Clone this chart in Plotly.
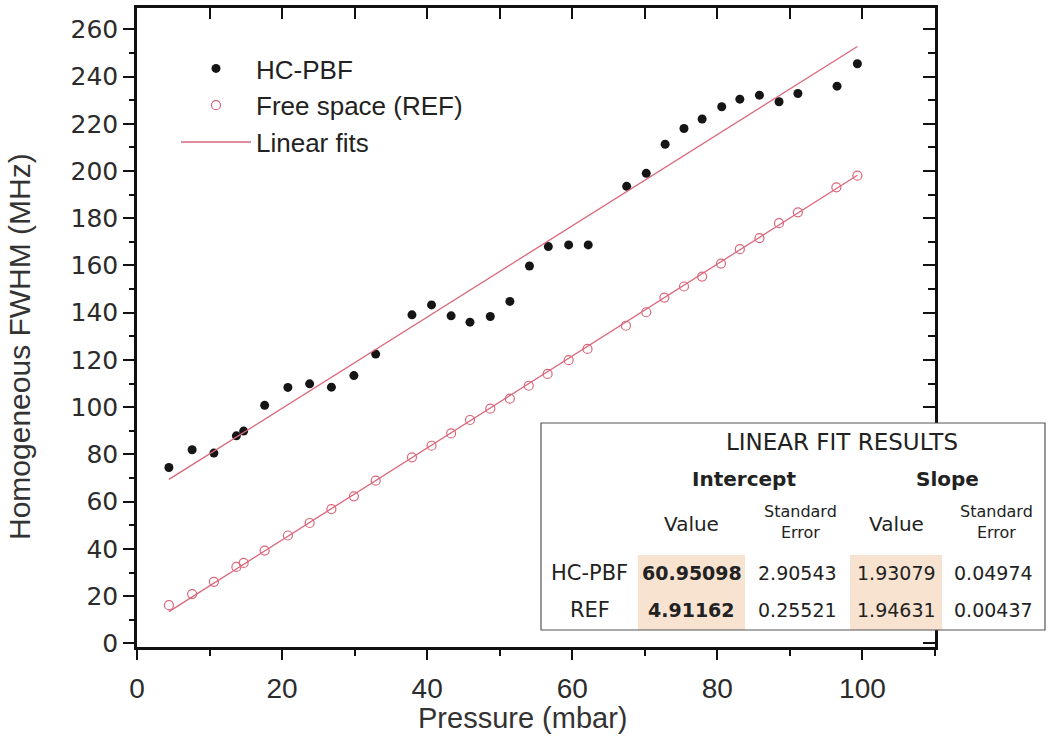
import plotly.graph_objects as go

# ---------------- data ----------------
pressure_hc = [4.4, 7.6, 10.6, 13.7, 14.7, 17.6, 20.8, 23.8, 26.8, 29.9, 32.9,
               37.9, 40.6, 43.3, 45.9, 48.7, 51.4, 54.1, 56.7, 59.5, 62.2,
               67.5, 70.2, 72.8, 75.4, 77.9, 80.6, 83.1, 85.8, 88.5, 91.1, 96.5, 99.3]
fwhm_hc = [74.5, 82.0, 80.6, 87.9, 89.9, 100.8, 108.4, 109.9, 108.5, 113.4, 122.5,
           139.1, 143.3, 138.7, 136.0, 138.4, 144.8, 159.8, 168.0, 168.7, 168.7,
           193.5, 199.0, 211.3, 218.0, 222.0, 227.2, 230.4, 232.1, 229.3, 232.8, 235.9, 245.4]

pressure_ref = [4.4, 7.6, 10.6, 13.7, 14.7, 17.6, 20.8, 23.8, 26.8, 29.9, 32.9,
                37.9, 40.6, 43.3, 45.9, 48.7, 51.4, 54.0, 56.6, 59.5, 62.1,
                67.4, 70.2, 72.7, 75.4, 77.9, 80.5, 83.1, 85.8, 88.5, 91.1, 96.4, 99.3]
fwhm_ref = [16.2, 20.9, 26.1, 32.4, 34.1, 39.3, 45.7, 51.0, 56.9, 62.3, 68.9,
            78.8, 83.7, 88.9, 94.6, 99.4, 103.6, 109.1, 114.1, 119.9, 124.7,
            134.5, 140.2, 146.4, 151.1, 155.3, 160.8, 166.9, 171.6, 177.9, 182.5, 193.1, 198.0]

# linear-fit table
fit_rows = ["HC-PBF", "REF"]
intercept_values = [60.95098, 4.91162]
intercept_errors = [2.90543, 0.25521]
slope_values = [1.93079, 1.94631]
slope_errors = [0.04974, 0.00437]

series_names = ["HC-PBF", "Free space (REF)", "Linear fits"]
x_tick_values = [0, 20, 40, 60, 80, 100]
y_tick_values = list(range(0, 261, 20))

# ---------------- styling ----------------
RED = "#d9677b"
W, H = 1057, 742
L, R, T, B = 137, 935, 8, 647
PW, PH = R - L, B - T
X_RANGE = [0, 110]
Y_RANGE = [-1.5, 269]


def px_x(px):
    return (px - L) / PW


def px_y(py):
    return (B - py) / PH


fig = go.Figure()

fig.add_trace(go.Scatter(
    x=pressure_hc, y=fwhm_hc, mode="markers", name=series_names[0],
    marker=dict(symbol="circle", size=9, color="#151515"), legendrank=1))
fig.add_trace(go.Scatter(
    x=pressure_ref, y=fwhm_ref, mode="markers", name=series_names[1],
    marker=dict(symbol="circle-open", size=9, color=RED, line=dict(width=1.2)),
    legendrank=2))

# fit lines from the table parameters over each data range
for i, (px_list, show) in enumerate([(pressure_hc, True), (pressure_ref, False)]):
    xs = [min(px_list), max(px_list)]
    ys = [intercept_values[i] + slope_values[i] * v for v in xs]
    fig.add_trace(go.Scatter(
        x=xs, y=ys, mode="lines", name=series_names[2], showlegend=show,
        line=dict(color=RED, width=1.3), legendrank=3))

# dummy trace to activate mirror axes
fig.add_trace(go.Scatter(x=[None], y=[None], xaxis="x2", yaxis="y2",
                         showlegend=False, hoverinfo="skip"))

axis_common = dict(showgrid=False, zeroline=False, showline=True, automargin=False,
                   linecolor="#111", linewidth=2.5, tickcolor="#111", tickwidth=2)

fig.update_layout(
    width=W, height=H,
    margin=dict(l=L, r=W - R, t=T, b=H - B),
    paper_bgcolor="white", plot_bgcolor="white",
    xaxis=dict(range=X_RANGE, tickvals=x_tick_values, ticks="outside", ticklen=10,
               ticklabelstandoff=5,
               minor=dict(dtick=10, tick0=0, ticks="outside", ticklen=6,
                          tickcolor="#111", tickwidth=2),
               tickfont=dict(family="Liberation Sans, Arial", size=28, color="#2b2b2b"),
               **axis_common),
    yaxis=dict(range=Y_RANGE, tickvals=y_tick_values, ticks="outside", ticklen=11,
               minor=dict(dtick=10, tick0=0, ticks="outside", ticklen=5,
                          tickcolor="#111", tickwidth=2),
               tickfont=dict(family="DejaVu Sans, Verdana", size=25, color="#2b2b2b"),
               **axis_common),
    xaxis2=dict(range=X_RANGE, overlaying="x", side="top", ticks="inside",
                dtick=10, tick0=0, ticklen=11, showticklabels=False, **axis_common),
    yaxis2=dict(range=Y_RANGE, overlaying="y", side="right", ticks="inside",
                dtick=20, tick0=0, ticklen=12, showticklabels=False,
                minor=dict(dtick=10, tick0=0, ticks="inside", ticklen=7,
                           tickcolor="#111", tickwidth=2),
                **axis_common),
    legend=dict(x=px_x(176), y=px_y(45), xanchor="left", yanchor="top",
                bgcolor="rgba(0,0,0,0)", itemwidth=70, tracegroupgap=0,
                font=dict(family="Liberation Sans, Arial", size=26, color="#222")),
    showlegend=True,
)

annotations = [
    dict(text="Pressure (mbar)", x=px_x(523), y=px_y(718), xref="paper", yref="paper",
         showarrow=False, xanchor="center", yanchor="middle",
         font=dict(family="Liberation Sans, Arial", size=29, color="#333")),
    dict(text="Homogeneous FWHM (MHz)", x=px_x(19), y=px_y(347), xref="paper", yref="paper",
         showarrow=False, xanchor="center", yanchor="middle", textangle=-90,
         font=dict(family="Liberation Sans, Arial", size=30, color="#333")),
]

shapes = []
# ---------------- fit results table ----------------
col_edges = [541, 638, 745, 850, 942, 1045]
tbl_top, tbl_bot = 423, 630
data_top = 555
row_mid = [573, 610]
PEACH = "#f8e3d1"

shapes.append(dict(type="rect", xref="paper", yref="paper",
                   x0=px_x(col_edges[0]), x1=px_x(col_edges[-1]),
                   y0=px_y(tbl_bot), y1=px_y(tbl_top),
                   fillcolor="white", line=dict(width=0), layer="above"))
for c0, c1 in [(col_edges[1], col_edges[2]), (col_edges[3], col_edges[4])]:
    shapes.append(dict(type="rect", xref="paper", yref="paper",
                       x0=px_x(c0), x1=px_x(c1), y0=px_y(tbl_bot), y1=px_y(data_top),
                       fillcolor=PEACH, line=dict(width=0), layer="above"))
shapes.append(dict(type="rect", xref="paper", yref="paper",
                   x0=px_x(col_edges[0]), x1=px_x(col_edges[-1]),
                   y0=px_y(tbl_bot), y1=px_y(tbl_top),
                   fillcolor="rgba(0,0,0,0)", line=dict(color="#555", width=1.2),
                   layer="above"))

TF = "DejaVu Sans, Verdana"


def cell(text, cx, cy, size, bold=False, color="#222"):
    annotations.append(dict(
        text=f"<b>{text}</b>" if bold else text, x=px_x(cx), y=px_y(cy),
        xref="paper", yref="paper", showarrow=False, xanchor="center", yanchor="middle",
        font=dict(family=TF, size=size, color=color)))


def mid(a, b):
    return (a + b) / 2


cell("LINEAR FIT RESULTS", mid(col_edges[1], col_edges[5]), 442, 23)
cell("Intercept", mid(col_edges[1], col_edges[3]), 479, 20, bold=True)
cell("Slope", mid(col_edges[3], col_edges[5]), 479, 20, bold=True)
cell("Value", mid(col_edges[1], col_edges[2]), 524, 20)
cell("Value", mid(col_edges[3], col_edges[4]), 524, 20)
for c in (2, 4):
    annotations.append(dict(
        text="Standard<br>Error", x=px_x(mid(col_edges[c], col_edges[c + 1]) + 3), y=px_y(522),
        xref="paper", yref="paper", showarrow=False, xanchor="center", yanchor="middle",
        align="center", font=dict(family=TF, size=16, color="#222")))

for i, name in enumerate(fit_rows):
    cy = row_mid[i]
    cell(name, mid(col_edges[0], col_edges[1]), cy, 21)
    cell(f"{intercept_values[i]:.5f}", mid(col_edges[1], col_edges[2]), cy, 19, bold=True)
    cell(f"{intercept_errors[i]:.5f}", mid(col_edges[2], col_edges[3]), cy, 19)
    cell(f"{slope_values[i]:.5f}", mid(col_edges[3], col_edges[4]), cy, 19)
    cell(f"{slope_errors[i]:.5f}", mid(col_edges[4], col_edges[5]), cy, 19)

fig.update_layout(annotations=annotations, shapes=shapes)

fig.write_html("out.html", config={"displayModeBar": False},
               post_script="document.body.style.margin='0';document.body.style.overflow='hidden';")
